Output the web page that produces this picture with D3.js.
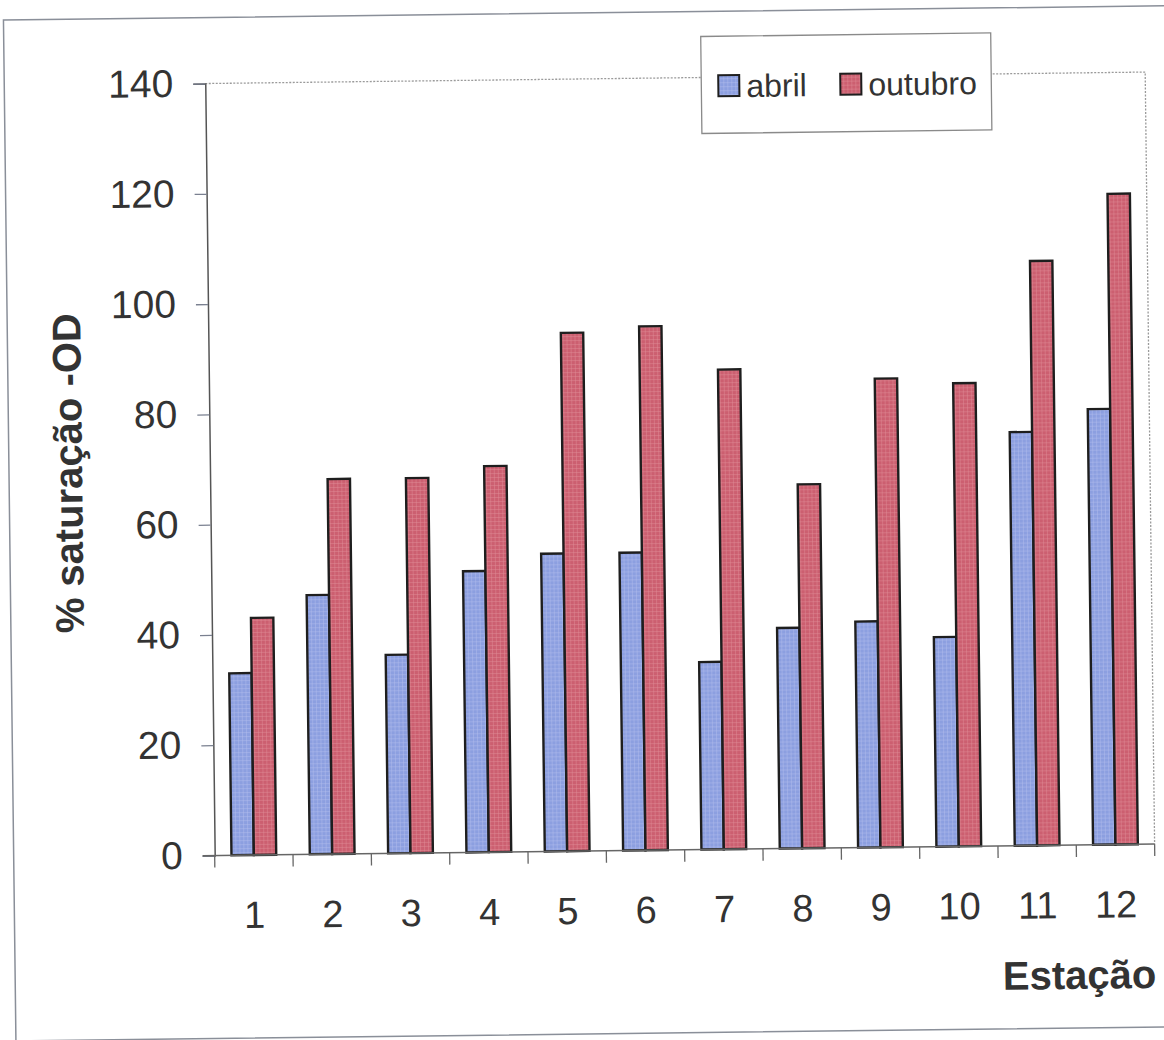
<!DOCTYPE html>
<html>
<head>
<meta charset="utf-8">
<script src="https://cdn.jsdelivr.net/npm/d3@7"></script>
<style>
  html, body { margin: 0; padding: 0; background: #fff; }
  svg { display: block; }
  text { font-family: "Liberation Sans", Arial, sans-serif; fill: #333; }
</style>
</head>
<body>
<div id="chart"></div>
<script>
// Dissolved-oxygen saturation per sampling station, April vs October
const stations = ["1", "2", "3", "4", "5", "6", "7", "8", "9", "10", "11", "12"];
const abril    = [33, 47, 36, 51, 54, 54, 34, 40, 41, 38, 75, 79];
const outubro  = [43, 68, 68, 70, 94, 95, 87, 66, 85, 84, 106, 118];
const seriesNames = ["abril", "outubro"];
const yTicks = [0, 20, 40, 60, 80, 100, 120, 140];

const seriesValues = { abril, outubro };
const colors = { abril: "#8c9fe0", outubro: "#cc5f70" };
const gridTint = { abril: "#b3c0ee", outubro: "#e08e9a" };

const W = 1164, H = 1040;
const plot = { left: 210, right: 1150, top: 79, bottom: 851 };

const svg = d3.select("#chart").append("svg")
  .attr("width", W).attr("height", H);

// fine halftone-like texture inside the bars
const defs = svg.append("defs");
seriesNames.forEach(s => {
  const p = defs.append("pattern")
    .attr("id", "tex-" + s)
    .attr("patternUnits", "userSpaceOnUse")
    .attr("width", 4).attr("height", 4);
  p.append("rect").attr("width", 4).attr("height", 4).attr("fill", colors[s]);
  p.append("rect").attr("x", 0).attr("y", 0).attr("width", 4).attr("height", 1)
    .attr("fill", gridTint[s]).attr("opacity", 0.45);
  p.append("rect").attr("x", 0).attr("y", 0).attr("width", 1).attr("height", 4)
    .attr("fill", gridTint[s]).attr("opacity", 0.45);
});

// the whole sheet sits slightly tilted
const root = svg.append("g").attr("transform", "rotate(-0.7 580 470)");

// outer chart frame
root.append("rect")
  .attr("x", 9).attr("y", 13).attr("width", 1175).attr("height", 1021)
  .attr("fill", "none").attr("stroke", "#8a8f99").attr("stroke-width", 1.5);

const x0 = d3.scaleBand()
  .domain(stations)
  .range([plot.left, plot.right])
  .paddingInner(1.5 / 3.5)
  .paddingOuter(0.75 / 3.5);

const x1 = d3.scaleBand()
  .domain(seriesNames)
  .range([0, x0.bandwidth()]);

const y = d3.scaleLinear()
  .domain([0, 140])
  .range([plot.bottom, plot.top]);

// plot-area border (top and right), dotted grey
root.append("path")
  .attr("d", `M${plot.left},${plot.top}H${plot.right}V${plot.bottom}`)
  .attr("fill", "none")
  .attr("stroke", "#9a9a9a")
  .attr("stroke-width", 1.3)
  .attr("stroke-dasharray", "2,1.5");

// bars
const groups = root.append("g").selectAll("g")
  .data(stations)
  .join("g")
  .attr("transform", d => `translate(${x0(d)},0)`);

groups.selectAll("rect")
  .data((d, i) => seriesNames.map(s => ({ s, v: seriesValues[s][i] })))
  .join("rect")
  .attr("x", d => x1(d.s))
  .attr("y", d => y(d.v))
  .attr("width", x1.bandwidth())
  .attr("height", d => y(0) - y(d.v))
  .attr("fill", d => `url(#tex-${d.s})`)
  .attr("stroke", "#1e1e1e")
  .attr("stroke-width", 2.4);

// y axis
const yAxis = d3.axisLeft(y)
  .tickValues(yTicks)
  .tickSize(12)
  .tickPadding(20);

const gy = root.append("g")
  .attr("transform", `translate(${plot.left},0)`)
  .call(yAxis);
gy.select(".domain").attr("stroke", "#555").attr("stroke-width", 1.5);
gy.selectAll(".tick line").attr("stroke", "#7a8090").attr("stroke-width", 1.3);
gy.selectAll(".tick text")
  .style("font-size", "39px")
  .style("font-family", "'Liberation Sans', Arial, sans-serif")
  .attr("fill", "#333");

// x axis: ticks sit between categories
const xAxis = d3.axisBottom(x0).tickSize(0).tickPadding(46);
const gx = root.append("g")
  .attr("transform", `translate(0,${plot.bottom})`)
  .call(xAxis);
gx.select(".domain").remove();
gx.selectAll(".tick text")
  .style("font-size", "38px")
  .style("font-family", "'Liberation Sans', Arial, sans-serif")
  .attr("fill", "#333");

root.append("line")
  .attr("x1", plot.left - 12).attr("x2", plot.right)
  .attr("y1", plot.bottom).attr("y2", plot.bottom)
  .attr("stroke", "#666").attr("stroke-width", 1.5);

const step = x0.step();
root.append("g").selectAll("line")
  .data(d3.range(stations.length + 1))
  .join("line")
  .attr("x1", i => plot.left + i * step)
  .attr("x2", i => plot.left + i * step)
  .attr("y1", plot.bottom)
  .attr("y2", plot.bottom + 12)
  .attr("stroke", "#666").attr("stroke-width", 1.3);

// axis titles
root.append("text")
  .attr("transform", `translate(82,467) rotate(-90)`)
  .attr("text-anchor", "middle")
  .style("font-size", "40px")
  .style("font-weight", "bold")
  .text("% saturação -OD");

root.append("text")
  .attr("x", plot.right)
  .attr("y", 995)
  .attr("text-anchor", "end")
  .style("font-size", "40px")
  .style("font-weight", "bold")
  .text("Estação");

// legend
const legend = root.append("g");
legend.append("rect")
  .attr("x", 706).attr("y", 38).attr("width", 290).attr("height", 97)
  .attr("fill", "#fff").attr("stroke", "#8a8a8a").attr("stroke-width", 1.3);

const legendPos = [{ sx: 723, tx: 751 }, { sx: 845, tx: 873 }];
seriesNames.forEach((s, i) => {
  legend.append("rect")
    .attr("x", legendPos[i].sx).attr("y", 77)
    .attr("width", 21).attr("height", 21)
    .attr("fill", `url(#tex-${s})`)
    .attr("stroke", "#1e1e1e").attr("stroke-width", 2);
  legend.append("text")
    .attr("x", legendPos[i].tx).attr("y", 99)
    .style("font-size", "32px")
    .text(s);
});
</script>
</body>
</html>
